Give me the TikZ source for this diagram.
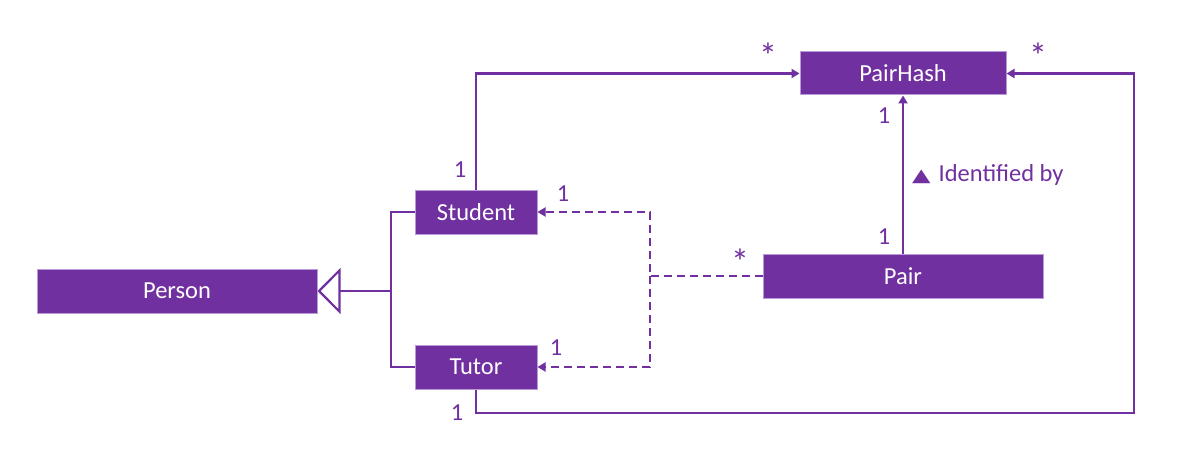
\documentclass[tikz,border=0pt]{standalone}
\usepackage{fontspec}
\setmainfont{Carlito}
\newfontfamily\symfont{DejaVu Sans}
\usetikzlibrary{arrows.meta}
\definecolor{umlpurple}{HTML}{7030A0}
\definecolor{umlborder}{HTML}{B99AD6}
\begin{document}
\begin{tikzpicture}[x=1pt,y=-1pt,
  cls/.style={draw=umlborder, line width=1pt, fill=umlpurple, text=white, inner sep=0pt,
    font=\fontsize{24.5}{29}\selectfont},
  conn/.style={draw=umlpurple, line width=2.2pt},
  assoc/.style={conn, -{Triangle[length=8pt,width=9pt]}},
  dep/.style={assoc, dash pattern=on 8pt off 5pt},
  mult/.style={text=umlpurple, font=\fontsize{24.5}{29}\selectfont, inner sep=0pt, anchor=base},
  star/.style={mult, font=\fontsize{36}{40}\selectfont}
]
\useasboundingbox (0,0) rectangle (1198,473);

\node[cls, minimum width=206pt, minimum height=43pt] (PairHash) at (903,73.5) {PairHash};
\node[cls, minimum width=280pt, minimum height=44pt] (Person) at (177,291) {Person};
\node[cls, minimum width=122pt, minimum height=44pt] (Student) at (476,212) {Student};
\node[cls, minimum width=122pt, minimum height=44pt] (Tutor) at (476,367) {Tutor};
\node[cls, minimum width=280pt, minimum height=44pt] (Pair) at (903,276) {Pair};

% associations
\draw[assoc] (Student.north) |- (PairHash.west);
\coordinate (rt) at (1134,413);
\draw[assoc] (Tutor.south) |- (rt) |- (PairHash.east);
\draw[assoc] (Pair.north) -- (PairHash.south);

% dependencies
\coordinate (dj) at (650,276);
\draw[dep] (Pair.west) -- (dj) |- (Student.east);
\draw[dep] (dj) |- (Tutor.east);

% generalization
\coordinate (gj) at (391,291);
\draw[conn] (Student.west) -| (gj);
\draw[conn] (Tutor.west) -| (gj);
\draw[conn, -{Triangle[open,length=23pt,width=46pt]}] (gj) -- (Person.east);

% multiplicities
\node[mult] (m1) at (460,178) {1};
\node[mult] (m2) at (884,124) {1};
\node[mult] (m3) at (884,244) {1};
\node[mult] (m4) at (563,201) {1};
\node[mult] (m5) at (556,355) {1};
\node[mult] (m6) at (457,420) {1};
\node[star] (s1) at (768,68.5) {*};
\node[star] (s2) at (1038,68.5) {*};
\node[star] (s3) at (740,274.5) {*};

\node[mult, anchor=base west] (idby) at (912,182)
  {{\symfont\fontsize{24}{26}\selectfont\scalebox{1}[0.75]{▲}}\kern8pt Identified by};
\end{tikzpicture}
\end{document}
